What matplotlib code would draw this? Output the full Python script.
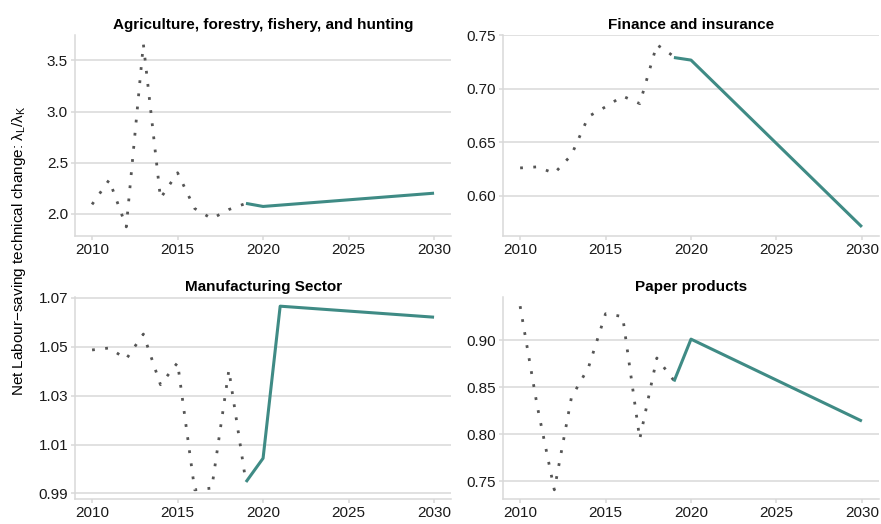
import matplotlib
matplotlib.use("Agg")
import matplotlib.pyplot as plt

plt.rcParams["font.family"] = ["Liberation Sans", "DejaVu Sans"]
plt.rcParams["mathtext.fontset"] = "custom"
plt.rcParams["mathtext.rm"] = "Liberation Sans"
plt.rcParams["mathtext.it"] = "Liberation Sans"

hist_years = [2010, 2011, 2012, 2013, 2014, 2015, 2016, 2017, 2018, 2019]

# observed ratios
agri_hist = [2.09, 2.33, 1.87, 3.66, 2.15, 2.40, 2.05, 1.95, 2.04, 2.10]
fin_hist = [0.626, 0.627, 0.621, 0.638, 0.674, 0.683, 0.693, 0.686, 0.741, 0.730]
manu_hist = [1.0487, 1.0495, 1.0450, 1.0552, 1.0345, 1.0435, 0.9915, 0.9922, 1.0405, 0.9945]
paper_hist = [0.936, 0.830, 0.741, 0.839, 0.871, 0.928, 0.925, 0.795, 0.881, 0.857]

# projections
agri_proj_years = [2019, 2020, 2030]
agri_proj = [2.10, 2.07, 2.20]
fin_proj_years = [2019, 2020, 2030]
fin_proj = [0.729, 0.7266, 0.571]
manu_proj_years = [2019, 2020, 2021, 2030]
manu_proj = [0.9947, 1.0044, 1.0666, 1.0621]
paper_proj_years = [2019, 2020, 2030]
paper_proj = [0.856, 0.901, 0.814]

titles = ["Agriculture, forestry, fishery, and hunting", "Finance and insurance",
          "Manufacturing Sector", "Paper products"]
yticks = [[2.0, 2.5, 3.0, 3.5], [0.60, 0.65, 0.70, 0.75],
          [0.99, 1.01, 1.03, 1.05, 1.07], [0.75, 0.80, 0.85, 0.90]]
yfmt = ["{:.1f}", "{:.2f}", "{:.2f}", "{:.2f}"]
xticks = [2010, 2015, 2020, 2025, 2030]

panels = [
    (hist_years, agri_hist, agri_proj_years, agri_proj),
    (hist_years, fin_hist, fin_proj_years, fin_proj),
    (hist_years, manu_hist, manu_proj_years, manu_proj),
    (hist_years, paper_hist, paper_proj_years, paper_proj),
]

boxes = [
    [0.0851, 0.5496, 0.4270, 0.3836],
    [0.5710, 0.5496, 0.4267, 0.3836],
    [0.0851, 0.0477, 0.4270, 0.3855],
    [0.5710, 0.0477, 0.4267, 0.3855],
]

grey = "#d9d9d9"
fig = plt.figure(figsize=(8.81, 5.24), dpi=100)

for i, (hx, hy, px, py) in enumerate(panels):
    ax = fig.add_axes(boxes[i])
    ax.plot(hx, hy, color="#555555", lw=2.0, linestyle=(0, (1, 3.75)),
            dash_capstyle="butt")
    ax.plot(px, py, color="#3f8b85", lw=2.2, solid_capstyle="butt")
    allv = hy + py
    lo, hi = min(allv), max(allv)
    pad = (hi - lo) * 0.05
    ax.set_ylim(lo - pad, hi + pad)
    ax.set_xlim(2009, 2031)
    ax.set_xticks(xticks)
    ax.set_yticks(yticks[i])
    ax.set_yticklabels([yfmt[i].format(v) for v in yticks[i]])
    ax.grid(axis="y", color=grey, lw=1.1)
    ax.set_axisbelow(True)
    for s in ["top", "right"]:
        ax.spines[s].set_visible(False)
    for s in ["left", "bottom"]:
        ax.spines[s].set_color(grey)
        ax.spines[s].set_linewidth(1.1)
    ax.tick_params(colors=grey, labelcolor="#1a1a1a", labelsize=11,
                   length=3, width=1.1, pad=2)
    ax.set_title(titles[i], fontsize=11, fontweight="bold", pad=4)

fig.text(0.021, 0.521, r"Net Labour$-$saving technical change: $\mathregular{\lambda_L/\lambda_K}$",
         rotation=90, ha="center", va="center", fontsize=11)

fig.savefig("out.png", dpi=100)
